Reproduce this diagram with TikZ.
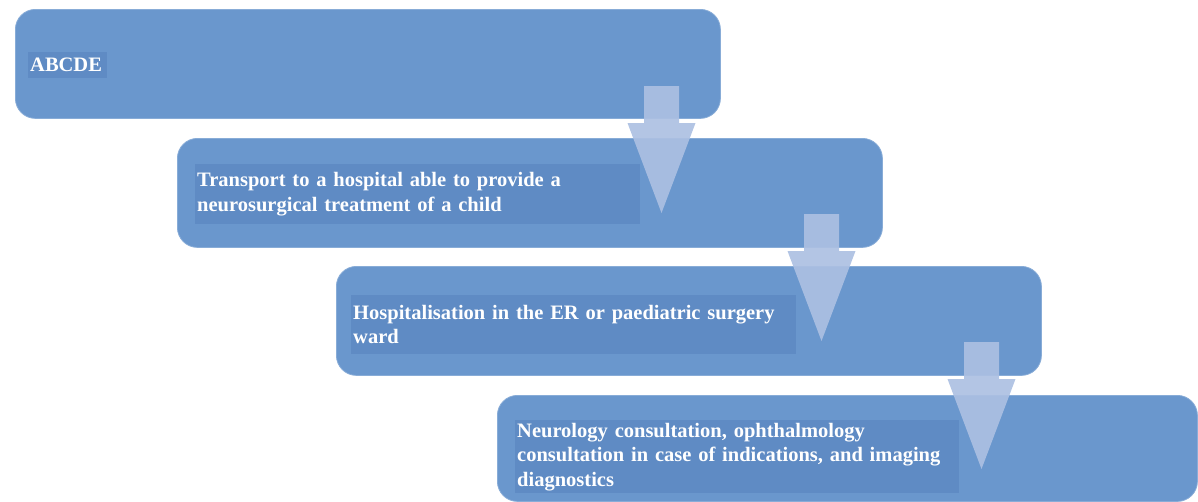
\documentclass[tikz,border=0pt]{standalone}
\usepackage{fontspec}
\setmainfont{Liberation Serif}
\definecolor{boxblue}{RGB}{106,151,205}
\definecolor{textblue}{RGB}{95,139,196}
\definecolor{arrowblue}{RGB}{172,192,226}
\tikzset{
  stepbox/.style={fill=boxblue, draw=boxblue!80!white, line width=0.8pt, rounded corners=20pt,
    minimum width=705pt, minimum height=109pt, anchor=north west, inner sep=0pt},
  labelbox/.style={fill=textblue, anchor=north west, text=white,
    font=\bfseries\fontsize{20.5}{24.5}\selectfont, align=left,
    inner xsep=2pt, inner ysep=0pt},
  pics/downarrow/.style={code={
    \fill[arrowblue, opacity=0.92] (-17.5,0) -- (17.5,0) -- (17.5,37) -- (34,37)
      -- (0,127) -- (-34,37) -- (-17.5,37) -- cycle;}}
}
\begin{document}
\begin{tikzpicture}[x=1pt,y=-1pt]
\useasboundingbox (0,0) rectangle (1198,501);
% step boxes
\node[stepbox] (b1) at (15,9) {};
\node[stepbox] (b2) at (177,138) {};
\node[stepbox] (b3) at (336,266) {};
\node[stepbox, minimum width=700pt, minimum height=106pt] (b4) at (497,395) {};
% text boxes
\node[labelbox, text width=75pt, minimum height=26pt] (t1) at (28,52) {ABCDE};
\node[labelbox, text width=441pt, minimum height=60pt] (t2) at (195,164)
  {Transport to a hospital able to provide a\\neurosurgical treatment of a child};
\node[labelbox, text width=441pt, minimum height=59pt] (t3) at (351,295)
  {Hospitalisation in the ER or paediatric surgery\\ward};
\node[labelbox, text width=440pt, minimum height=73pt] (t4) at (515,420)
  {Neurology consultation, ophthalmology\\consultation in case of indications, and imaging\\diagnostics};
% arrows
\coordinate (a1) at (661.5,86);
\coordinate (a2) at (821.5,214);
\coordinate (a3) at (981.5,342);
\pic at (a1) {downarrow};
\pic at (a2) {downarrow};
\pic at (a3) {downarrow};
\end{tikzpicture}
\end{document}
